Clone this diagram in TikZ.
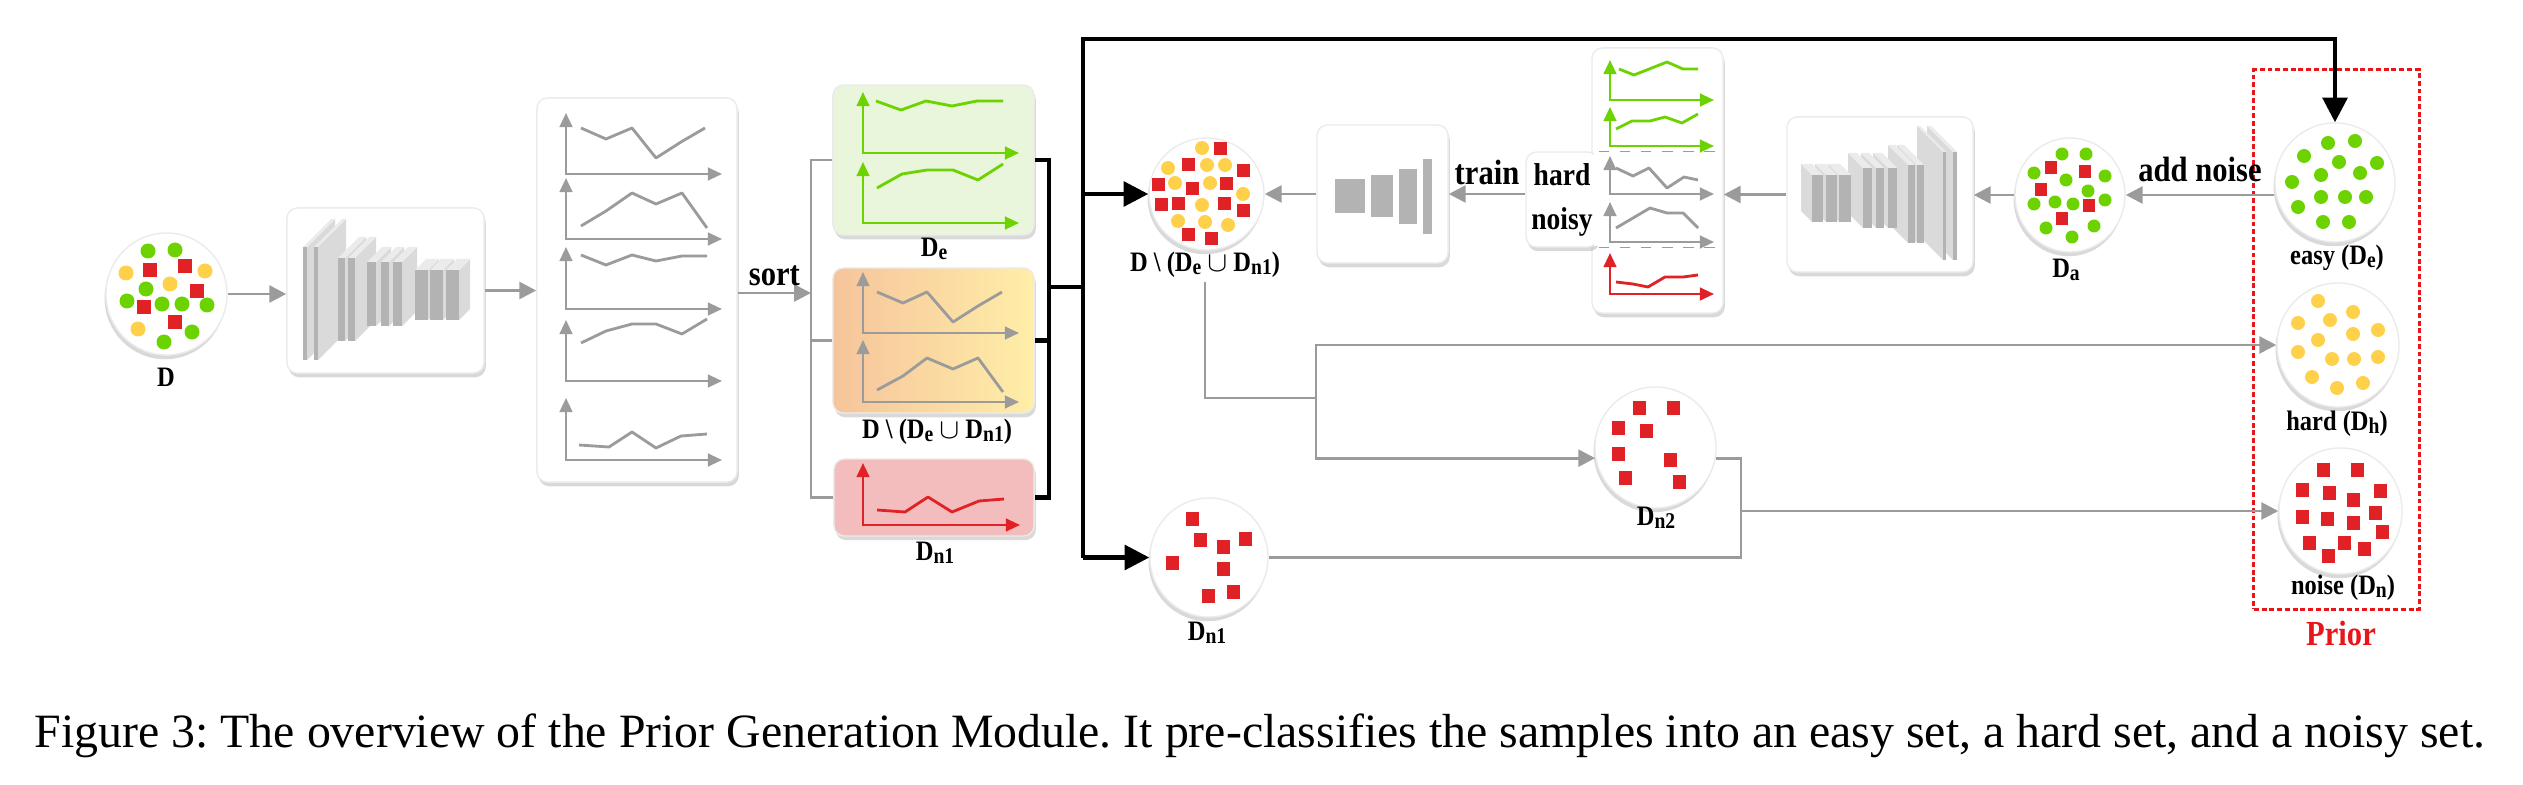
\documentclass[tikz,border=0pt]{standalone}
\usepackage{fontspec}
\setmainfont{Liberation Serif}[FakeStretch=0.87]
\newfontfamily\capfont{Liberation Serif}
\usepackage{tikz}
\usetikzlibrary{arrows.meta,shapes.geometric,shadows}

\definecolor{flowgray}{HTML}{9B9B9B}
\definecolor{dotgreen}{HTML}{6CD200}
\definecolor{dotyellow}{HTML}{FFD04A}
\definecolor{dotred}{HTML}{E02226}
\definecolor{easyfill}{HTML}{EAF6DC}
\definecolor{noisefill}{HTML}{F4BDBD}
\definecolor{hardleft}{HTML}{F6C49B}
\definecolor{hardright}{HTML}{FFEEA8}
\definecolor{slabfront}{HTML}{B3B3B3}
\definecolor{slabside}{HTML}{DADADA}
\definecolor{slabtop}{HTML}{EBEBEB}
\definecolor{priorred}{HTML}{E8161B}
\newcommand{\sbs}[1]{\raisebox{-0.2ex}{\scalebox{0.8}{#1}}}
\frenchspacing

\begin{document}
\begin{tikzpicture}[
  x=0.01cm, y=-0.01cm,
  box/.style={rectangle, rounded corners=3pt, draw=black!8, fill=white, inner sep=0pt,
    drop shadow={shadow xshift=0.5pt, shadow yshift=-1.2pt, opacity=0.3}},
  dset/.style={ellipse, draw=black!8, fill=white, inner sep=0pt,
    drop shadow={shadow xshift=-0.4pt, shadow yshift=-1.2pt, opacity=0.3}},
  lbl/.style={font=\fontsize{8}{9.5}\selectfont\bfseries, inner sep=1pt},
  act/.style={font=\fontsize{10}{12}\selectfont\bfseries, text=black, inner sep=1pt},
  gline/.style={flowgray, line width=0.8pt},
  garrow/.style={gline, -{Triangle[length=4.8pt, width=4.8pt]}},
  bline/.style={black, line width=1.15pt},
  barrow/.style={bline, -{Triangle[length=7pt, width=7pt]}},
  chartaxis/.style={line width=0.65pt, {Triangle[length=4pt, width=3.6pt]}-{Triangle[length=4pt, width=3.6pt]}},
  chartline/.style={line width=0.8pt, line join=round},
  sep/.style={flowgray, dashed, line width=0.4pt}
]
  \useasboundingbox (0,0) rectangle (2523,785);

  % prior frame
  \node[draw=priorred, line width=0.85pt, dash pattern=on 1.4pt off 0.8pt, minimum width=1.65cm, minimum height=5.39cm, inner sep=0pt] (prior) at (2336.5,339.5) {};

  % data sets
  \node[dset, minimum width=1.21cm, minimum height=1.22cm] (D) at (166.5,294) {};
  \node[dset, minimum width=1.15cm, minimum height=1.12cm] (mix) at (1206.5,194) {};
  \node[dset, minimum width=1.18cm, minimum height=1.19cm] (dn1c) at (1209,557.5) {};
  \node[dset, minimum width=1.21cm, minimum height=1.21cm] (dn2) at (1655.5,447.5) {};
  \node[dset, minimum width=1.10cm, minimum height=1.14cm] (Da) at (2070,195) {};
  \node[dset, minimum width=1.20cm, minimum height=1.19cm] (easy) at (2335,182.5) {};
  \node[dset, minimum width=1.22cm, minimum height=1.24cm] (hard) at (2338,345) {};
  \node[dset, minimum width=1.23cm, minimum height=1.26cm] (noise) at (2340.5,511) {};

  % samples
  \foreach \x/\y in {148/251, 175/250, 146/289, 127/301, 162/304, 182/304, 207/305, 192/332, 164/342}
    \fill[dotgreen] (\x,\y) circle (7.5);
  \foreach \x/\y in {126/273, 205/271, 170/284, 138/329}
    \fill[dotyellow] (\x,\y) circle (7.5);
  \foreach \x/\y in {150/270, 185/266, 197/291, 144/307, 175/322}
    \fill[dotred] (\x-7,\y-7) rectangle ++(14,14);
  \foreach \x/\y in {1202/148, 1168/168, 1207/165, 1225/165, 1175/183, 1210/183, 1243/194, 1202/205, 1178/221, 1205/222, 1228/225}
    \fill[dotyellow] (\x,\y) circle (7);
  \foreach \x/\y in {1220/149, 1188/165, 1243/171, 1158/185, 1192/189, 1226/184, 1161/205, 1178/204, 1224/204, 1243/211, 1188/235, 1211/239}
    \fill[dotred] (\x-6.5,\y-6.5) rectangle ++(13,13);
  \foreach \x/\y in {2062/154, 2086/154, 2034/173, 2066/180, 2105/176, 2088/191, 2034/204, 2055/202, 2073/204, 2105/200, 2046/228, 2094/226, 2072/237}
    \fill[dotgreen] (\x,\y) circle (6.5);
  \foreach \x/\y in {2051/168, 2085/172, 2041/190, 2089/206, 2062/219}
    \fill[dotred] (\x-6,\y-6.5) rectangle ++(12,13);
  \foreach \x/\y in {2328/143, 2355/141, 2304/156, 2339/162, 2377/163, 2292/182, 2321/175, 2360/173, 2321/197, 2345/197, 2366/197, 2298/207, 2323/222, 2349/222}
    \fill[dotgreen] (\x,\y) circle (7);
  \foreach \x/\y in {2318/301, 2353/312, 2298/323, 2330/320, 2378/330, 2353/334, 2318/340, 2298/352, 2332/359, 2354/359, 2378/357, 2312/377, 2363/383, 2337/388}
    \fill[dotyellow] (\x,\y) circle (7);
  \foreach \x/\y in {2323/470, 2357/470, 2302/490, 2329/493, 2380/491, 2353/500, 2302/517, 2327/519, 2353/523, 2375/513, 2382/532, 2309/543, 2344/543, 2364/549, 2328/556}
    \fill[dotred] (\x-6.5,\y-7) rectangle ++(13,14);
  \foreach \x/\y in {1639/408, 1673/408, 1618/428, 1646/431, 1618/454, 1670/460, 1625/478, 1679/482}
    \fill[dotred] (\x-6.5,\y-7) rectangle ++(13,14);
  \foreach \x/\y in {1192/519, 1200/540, 1223/547, 1245/539, 1172/563, 1223/569, 1208/596, 1233/592}
    \fill[dotred] (\x-6.5,\y-7) rectangle ++(13,14);

  % boxes
  \node[box, minimum width=1.97cm, minimum height=1.65cm] (cnn1) at (385.5,290.5) {};
  \node[box, minimum width=2.00cm, minimum height=3.84cm] (loss) at (637,290) {};
  \node[box, fill=easyfill, minimum width=2.01cm, minimum height=1.50cm] (easybox) at (933.5,160) {};
  \node[box, left color=hardleft, right color=hardright, minimum width=2.01cm, minimum height=1.45cm] (hardbox) at (933.5,340.5) {};
  \node[box, fill=noisefill, minimum width=2.00cm, minimum height=0.77cm] (noisebox) at (934,497.5) {};
  \node[box, minimum width=1.31cm, minimum height=1.38cm] (cnn2) at (1382.5,194) {};
  \node[box, minimum width=1.31cm, minimum height=2.65cm] (split) at (1657.5,180.5) {};
  \node[box, minimum width=0.72cm, minimum height=0.95cm, align=center, font=\fontsize{9}{12.5}\selectfont\bfseries] (panel) at (1562,199.5) {hard\\noisy};
  \node[box, minimum width=1.86cm, minimum height=1.55cm] (cnn3) at (1880,194.5) {};
  \fill[white] (1594,152.8) rectangle (1600,246.2);
  \draw[sep] (panel.north east) -- (panel.north east -| split.east);
  \draw[sep] (panel.south east) -- (panel.south east -| split.east);

  % encoder layers
  \foreach \xa/\xb/\ya/\yb/\dd in {303/307/247/360/28, 314/318/247/360/28, 338/345/258/341/21, 348/355/258/341/21,
      367/376/262/326/15, 381/389/262/326/15, 393/402/262/326/15, 415/428/270/320/11, 430/443/270/320/11, 446/459/270/320/11}{
    \fill[slabside] (\xb,\ya) -- (\xb+\dd,\ya-\dd) -- (\xb+\dd,\yb-\dd) -- (\xb,\yb) -- cycle;
    \fill[slabtop] (\xa,\ya) -- (\xa+\dd,\ya-\dd) -- (\xb+\dd,\ya-\dd) -- (\xb,\ya) -- cycle;
    \fill[slabfront] (\xa,\ya) rectangle (\xb,\yb);
  }
  % classifier
  \foreach \xa/\xb/\ya/\yb in {1335/1365/179/213, 1371/1393/175/217, 1399/1417/169/224, 1423/1432/159/234}
    \fill[slabfront] (\xa,\ya) rectangle (\xb,\yb);
  % decoder layers
  \foreach \xa/\xb/\ya/\yb/\dd in {1953/1957/152/260/26, 1943/1946/152/260/26, 1917/1924/165/243/20, 1908/1915/165/243/20,
      1888/1897/168/228/15, 1876/1884/168/228/15, 1863/1872/168/228/15, 1839/1851/175/222/11, 1826/1837/175/222/11, 1812/1823/175/222/11}{
    \fill[slabside] (\xa,\ya) -- (\xa-\dd,\ya-\dd) -- (\xa-\dd,\yb-\dd) -- (\xa,\yb) -- cycle;
    \fill[slabtop] (\xa,\ya) -- (\xa-\dd,\ya-\dd) -- (\xb-\dd,\ya-\dd) -- (\xb,\ya) -- cycle;
    \fill[slabfront] (\xa,\ya) rectangle (\xb,\yb);
  }

  % loss curves
  \draw[chartaxis, flowgray] (566,113) |- (722,174);
  \draw[chartline, flowgray] (581,128) -- (606,139) -- (632,128) -- (656,158) -- (681,142) -- (705,128);
  \draw[chartaxis, flowgray] (566,178) |- (722,239);
  \draw[chartline, flowgray] (581,226) -- (606,211) -- (632,193) -- (656,204) -- (682,193) -- (707,228);
  \draw[chartaxis, flowgray] (566,247) |- (722,309);
  \draw[chartline, flowgray] (581,255) -- (606,265) -- (632,255) -- (656,261) -- (682,256) -- (707,256);
  \draw[chartaxis, flowgray] (566,320) |- (722,381);
  \draw[chartline, flowgray] (581,343) -- (606,331) -- (632,324) -- (656,324) -- (682,334) -- (707,319);
  \draw[chartaxis, flowgray] (566,398) |- (722,460);
  \draw[chartline, flowgray] (579,445) -- (609,447) -- (632,432) -- (656,448) -- (681,436) -- (707,434);

  \draw[chartaxis, dotgreen] (863,92) |- (1019,153);
  \draw[chartline, dotgreen] (876,101) -- (901,110) -- (926,101) -- (952,106) -- (977,101) -- (1003,101);
  \draw[chartaxis, dotgreen] (863,162) |- (1019,223);
  \draw[chartline, dotgreen] (877,188) -- (902,174) -- (927,170) -- (953,170) -- (978,180) -- (1003,164);
  \draw[chartaxis, flowgray] (863,272) |- (1019,333);
  \draw[chartline, flowgray] (877,292) -- (903,303) -- (927,292) -- (953,322) -- (978,306) -- (1002,292);
  \draw[chartaxis, flowgray] (863,340) |- (1019,402);
  \draw[chartline, flowgray] (877,390) -- (903,376) -- (927,358) -- (953,369) -- (978,358) -- (1003,392);
  \draw[chartaxis, dotred] (863,463) |- (1020,525);
  \draw[chartline, dotred] (877,510) -- (905,512) -- (928,497) -- (952,512) -- (979,501) -- (1004,499);

  \draw[chartaxis, dotgreen] (1610,60) |- (1714,100);
  \draw[chartline, dotgreen] (1619,69) -- (1634,75) -- (1667,62) -- (1683,69) -- (1698,69);
  \draw[chartaxis, dotgreen] (1610,107) |- (1714,146);
  \draw[chartline, dotgreen] (1616,129) -- (1632,121) -- (1650,121) -- (1665,117) -- (1682,123) -- (1698,114);
  \draw[chartaxis, flowgray] (1610,156) |- (1714,194);
  \draw[chartline, flowgray] (1616,168) -- (1633,176) -- (1649,168) -- (1667,188) -- (1684,177) -- (1698,180);
  \draw[chartaxis, flowgray] (1610,202) |- (1714,242);
  \draw[chartline, flowgray] (1616,228) -- (1650,208) -- (1667,213) -- (1683,213) -- (1698,228);
  \draw[chartaxis, dotred] (1610,253) |- (1714,294);
  \draw[chartline, dotred] (1616,282) -- (1633,284) -- (1648,287) -- (1665,277) -- (1683,277) -- (1698,275);

  % labels
  \node[lbl] (Dlbl) at (166,377) {D};
  \node[lbl] (delbl) at (934,249) {D\sbs{e}};
  \node[lbl] (restlbl) at (937,432) {D \textbackslash{} (D\sbs{e} $\cup$ D\sbs{n1})};
  \node[lbl] (dn1lbl) at (935,553) {D\sbs{n1}};
  \node[lbl] (mixlbl) at (1205,265) {D \textbackslash{} (D\sbs{e} $\cup$ D\sbs{n1})};
  \node[lbl] (dn1clbl) at (1207,633) {D\sbs{n1}};
  \node[lbl] (dn2lbl) at (1656,518) {D\sbs{n2}};
  \node[lbl] (dalbl) at (2066,270) {D\sbs{a}};
  \node[lbl] (easylbl) at (2337,258) {easy (D\sbs{e})};
  \node[lbl] (hardlbl) at (2337,424) {hard (D\sbs{h})};
  \node[lbl] (noiselbl) at (2343,588) {noise (D\sbs{n})};
  \node[act, text=priorred] (priorlbl) at (2341,633) {Prior};

  % gray flow
  \coordinate (gbrk) at (811,293);
  \draw[garrow] (D.east) -- (D.east -| cnn1.west);
  \draw[garrow] (cnn1.east) -- (cnn1.east -| loss.west);
  \draw[garrow] (loss.east |- gbrk) -- (gbrk) node[act, midway, above=0.7pt] (sortlbl) {sort};
  \draw[gline] (easybox.west) -| (gbrk) |- (noisebox.west);
  \draw[gline] (hardbox.west) -- (hardbox.west -| gbrk);
  \draw[garrow] (Da.east -| easy.west) -- (Da.east) node[act, midway, above=2.4pt] (addlbl) {add noise};
  \draw[garrow] (Da.west) -- (Da.west -| cnn3.east);
  \draw[garrow] (cnn3.west) -- (cnn3.west -| split.east);
  \draw[garrow] (panel.west |- cnn2.east) -- (cnn2.east) node[act, midway, above=1.3pt] (trainlbl) {train};
  \draw[garrow] (cnn2.west) -- (cnn2.west -| mix.east);

  \coordinate (gsplit) at (1316,398);
  \coordinate (gmerge) at (1741,511);
  \draw[gline] (mixlbl.south) |- (gsplit);
  \draw[garrow] (gsplit) |- (hard.west);
  \draw[garrow] (gsplit) |- (dn2.190);
  \draw[gline] (dn2.350) -| (gmerge);
  \draw[gline] (dn1c.east) -| (gmerge);
  \draw[garrow] (gmerge) -- (noise.west);

  % black flow
  \coordinate (bbrk) at (1049,287);
  \coordinate (btop) at (1083,39);
  \coordinate (bbot) at (1083,557.5);
  \draw[bline] (easybox.east) -| (bbrk) |- (noisebox.east);
  \draw[bline] (hardbox.east) -- (hardbox.east -| bbrk);
  \draw[bline] (bbrk) -- (bbrk -| btop);
  \draw[barrow] (bbot) -- (btop) -| (easy.north);
  \draw[barrow] (mix.west -| btop) -- (mix.west);
  \draw[barrow] (bbot) -- (dn1c.west);

  % caption
  \node[anchor=base west, inner sep=0pt, font=\capfont\fontsize{13.6}{16}\selectfont] (caption) at (34,747) {Figure 3: The overview of the Prior Generation Module. It pre-classifies the samples into an easy set, a hard set, and a noisy set.};
\end{tikzpicture}
\end{document}
